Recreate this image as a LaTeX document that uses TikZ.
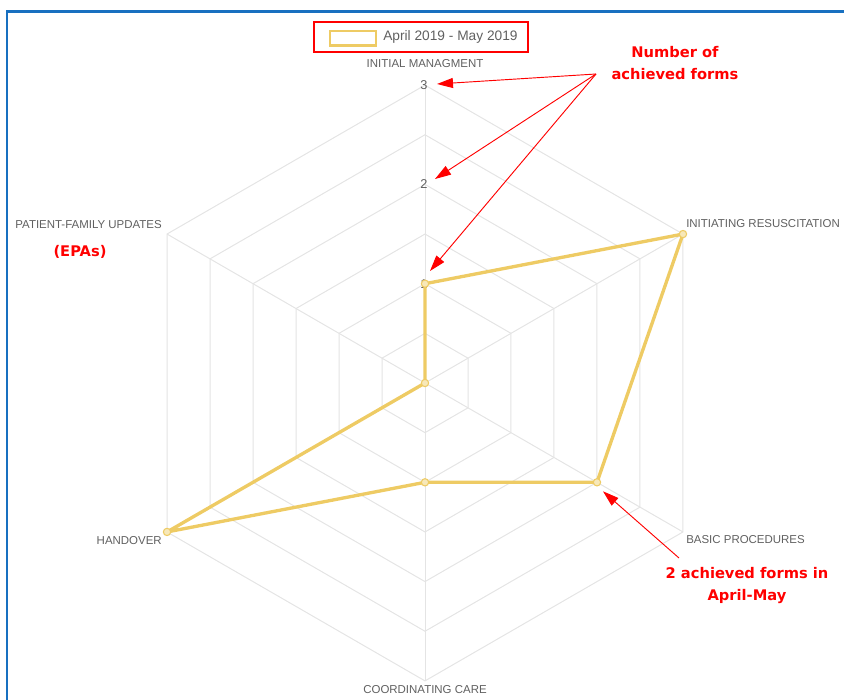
\documentclass[tikz,border=0pt]{standalone}
\usepackage{fontspec}
\setmainfont{Liberation Sans}
\newfontfamily\notefont{DejaVu Sans}
\usetikzlibrary{arrows.meta}
\definecolor{chartgrid}{RGB}{228,228,228}
\definecolor{serieyellow}{RGB}{238,203,100}
\definecolor{labelgray}{RGB}{96,96,96}
\definecolor{frameblue}{RGB}{24,112,192}
\definecolor{notered}{RGB}{255,0,0}

\begin{document}
\begin{tikzpicture}[x=0.75pt,y=-0.75pt,
    gridline/.style={chartgrid,line width=0.75pt},
    series/.style={serieyellow,line width=2.5pt,line join=round},
    datapoint/.style={circle,draw=serieyellow,fill=serieyellow!45,line width=0.8pt,inner sep=0pt,minimum size=5.5pt},
    axislabel/.style={font=\fontsize{8.6}{9}\selectfont,text=labelgray,inner sep=0pt},
    ticklabel/.style={font=\fontsize{9.6}{10}\selectfont,text=labelgray,inner sep=0pt},
    note/.style={font=\notefont\bfseries\fontsize{11}{16.5}\selectfont,text=notered,align=center,inner sep=0pt},
    notearrow/.style={notered,line width=0.7pt,-{Triangle[length=12pt,width=7.5pt]}}]
    \useasboundingbox (0,0) rectangle (844,700);

    % window frame
    \draw[frameblue,line width=1.6pt] (7,700) -- (7,11.5) -- (844,11.5);

    % legend
    \node[draw=notered,line width=1.5pt,minimum width=161pt,minimum height=22.5pt,inner sep=0pt] (legend) at (421,37) {};
    \draw[serieyellow,line width=2.2pt] (330,31) rectangle (376,45.5);
    \node[anchor=west,font=\fontsize{10.3}{11}\selectfont,text=labelgray,inner sep=0pt] (legendtext) at (383,37) {April 2019 - May 2019};

    \begin{scope}[shift={(425,383)}]
        % hexagonal grid, six rings
        \foreach \r in {1,...,6} {
            \pgfmathsetmacro\rr{\r*49.65}
            \draw[gridline] (-90:\rr) -- (-30:\rr) -- (30:\rr) -- (90:\rr) -- (150:\rr) -- (210:\rr) -- cycle;
        }
        % spokes
        \foreach \a in {-90,-30,...,210}
            \draw[gridline] (0,0) -- (\a:297.9);

        % data values
        \foreach \v [count=\i from 0] in {1,3,2,1,3,0}
            \coordinate (p\i) at ({-90+60*\i}:{\v*99.3});
    \end{scope}

    % tick labels
    \node[ticklabel] (tick3) at (424,85) {3};
    \node[ticklabel] (tick2) at (424,184) {2};
    \node[ticklabel] (tick1) at (424,284) {1};

    % series
    \draw[series] (p0) -- (p1) -- (p2) -- (p3) -- (p4) -- (p5) -- cycle;
    \foreach \i in {0,...,5}
        \node[datapoint] at (p\i) {};

    % axis labels
    \node[axislabel] (initial) at (425,64) {INITIAL MANAGMENT};
    \node[axislabel,anchor=west] (resus) at (686,224) {INITIATING RESUSCITATION};
    \node[axislabel,anchor=west] (basic) at (686,540) {BASIC PROCEDURES};
    \node[axislabel] (coord) at (425,690) {COORDINATING CARE};
    \node[axislabel,anchor=east] (handover) at (162,541) {HANDOVER};
    \node[axislabel,anchor=east] (family) at (162,225) {PATIENT-FAMILY UPDATES};

    % annotations
    \node[note] (formsnote) at (675,63) {Number of\\achieved forms};
    \node[note] (epas) at (80,252) {(EPAs)};
    \node[note] (aprilnote) at (747,586) {2 achieved forms in\\April-May};

    \coordinate (formssrc) at (596,74);
    \coordinate (tip3) at (437,84);
    \coordinate (tip2) at (435,179);
    \coordinate (tip1) at (430,271);
    \draw[notearrow] (formssrc) -- (tip3);
    \draw[notearrow] (formssrc) -- (tip2);
    \draw[notearrow] (formssrc) -- (tip1);

    \coordinate (aprilsrc) at (679,558);
    \draw[notearrow] (aprilsrc) -- ([shift={(6,9)}]p2);
\end{tikzpicture}
\end{document}
